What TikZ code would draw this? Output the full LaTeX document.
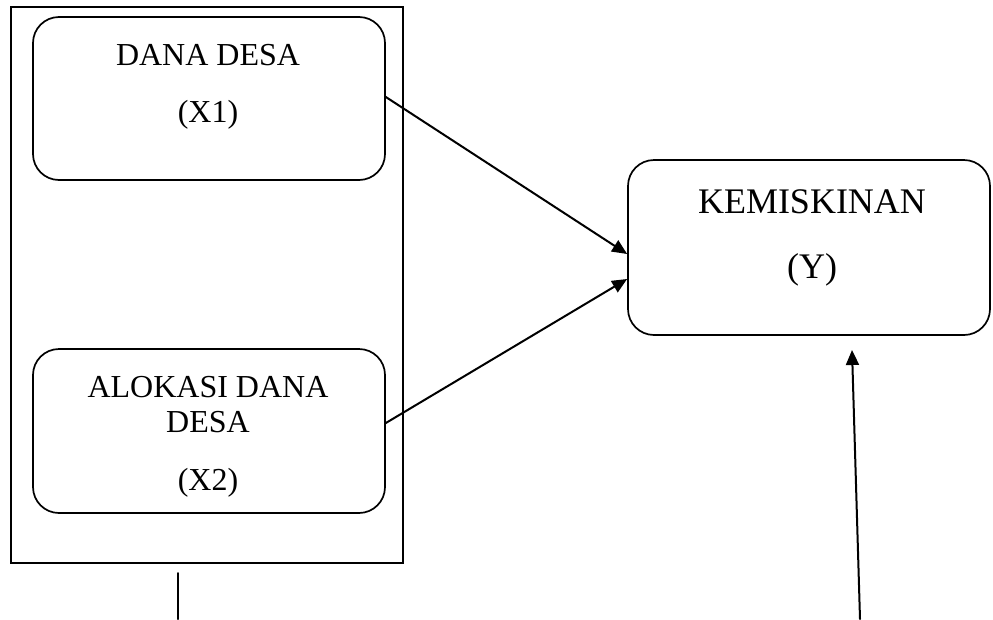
\documentclass[tikz,border=0pt]{standalone}
\usepackage{fontspec}
\setmainfont{Liberation Serif}
\usetikzlibrary{arrows.meta}

\begin{document}
\begin{tikzpicture}
[x=1pt,y=-1pt,line cap=round,
% Styles
outer box/.style={draw,line width=1.8pt,minimum width=392pt,minimum height=556pt,inner sep=0pt},
var box/.style={draw,line width=1.7pt,rounded corners=26pt,inner sep=0pt},
var text/.style={anchor=base,inner sep=0pt,font=\fontsize{32}{37}\selectfont},
big text/.style={anchor=base,inner sep=0pt,font=\fontsize{36}{42}\selectfont},
effect/.style={line width=2pt,-{Triangle[length=15pt,width=13pt]}}]
\useasboundingbox (0,0) rectangle (993,619);
% The frame round X1 and X2
\node[outer box] (kelompok) at (207,285) {};
% The boxes
\node[var box,minimum width=352pt,minimum height=163pt] (danadesa) at (209,98.5) {};
\node[var box,minimum width=352pt,minimum height=164pt] (alokasi) at (209,431) {};
\node[var box,minimum width=362pt,minimum height=175pt] (kemiskinan) at (809,247.5) {};
% Texts
\node[var text] (danadesa-1) at (208,65) {DANA DESA};
\node[var text] (danadesa-2) at (208,122) {(X1)};
\node[var text] (alokasi-1) at (208,397) {ALOKASI DANA};
\node[var text] (alokasi-2) at (208,432) {DESA};
\node[var text] (alokasi-3) at (208,490) {(X2)};
\node[big text] (kemiskinan-1) at (812,213) {KEMISKINAN};
\node[big text] (kemiskinan-2) at (812,278) {(Y)};
% Free ends
\coordinate (lain-bawah) at (860,619);
\coordinate (lain-ujung) at (852,350);
\coordinate (garis-atas) at (178,573);
\coordinate (garis-bawah) at (178,619);
% Connectors
\draw[effect] ([yshift=1.5pt]danadesa.east) -- ([yshift=-6.5pt]kemiskinan.west);
\draw[effect] ([yshift=8pt]alokasi.east) -- ([yshift=-31.5pt]kemiskinan.west);
\draw[effect] (lain-bawah) -- (lain-ujung);
\draw[line width=2pt] (garis-atas) -- (garis-bawah);
\end{tikzpicture}
\end{document}
